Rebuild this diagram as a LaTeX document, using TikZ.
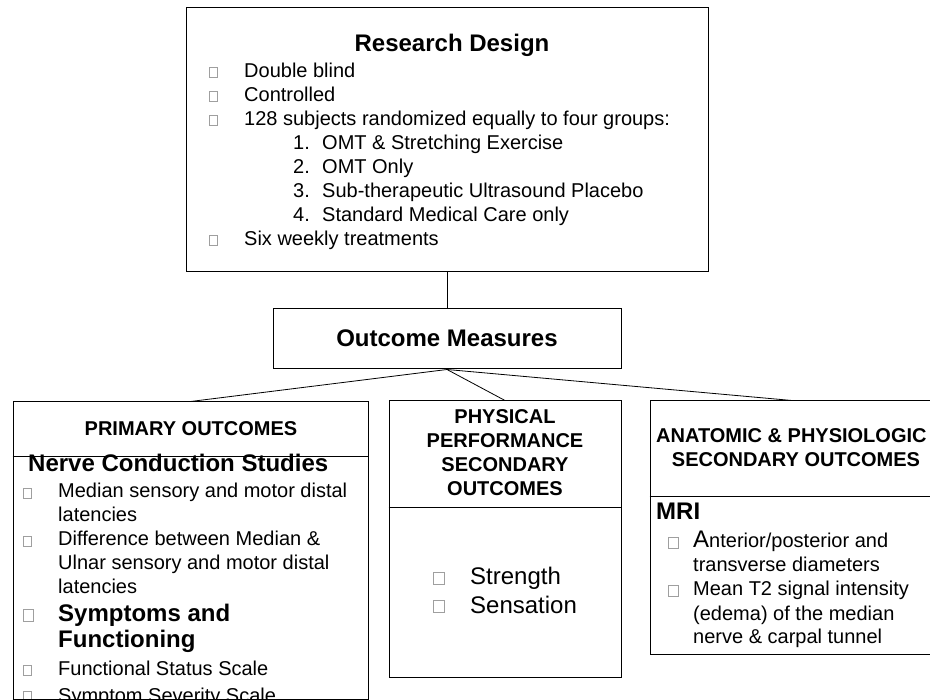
\documentclass[tikz,border=0pt]{standalone}
\usepackage{fontspec}
\setmainfont{Liberation Sans}
\begin{document}
\begin{tikzpicture}[x=1pt,y=-1pt,
  boxst/.style={draw=black,line width=1pt,inner sep=0,fill=none},
  divst/.style={draw=black,line width=1pt},
  conn/.style={draw=black,line width=0.8pt},
  bulst/.style={draw=gray!75,line width=0.6pt},
  bt/.style={inner sep=0,anchor=base west,font=\fontsize{20pt}{24pt}\selectfont},
  hd/.style={inner sep=0,anchor=base,font=\fontsize{20pt}{24pt}\selectfont\bfseries},
  hdw/.style={inner sep=0,anchor=base west,font=\fontsize{20pt}{24pt}\selectfont\bfseries},
  big/.style={inner sep=0,anchor=base,font=\fontsize{24pt}{28pt}\selectfont\bfseries},
  bigw/.style={inner sep=0,anchor=base west,font=\fontsize{24pt}{28pt}\selectfont\bfseries},
  lgw/.style={inner sep=0,anchor=base west,font=\fontsize{24pt}{28pt}\selectfont}]
\useasboundingbox[fill=white] (0,0) rectangle (930,700);

% ---------- boxes ----------
\node[boxst,minimum width=522pt,minimum height=264pt] (rd) at (447,140) {};
\node[boxst,minimum width=348pt,minimum height=60pt] (om) at (447,339) {};
\node[boxst,minimum width=355pt,minimum height=297pt] (lb) at (190.5,550.5) {};
\node[boxst,minimum width=232pt,minimum height=276pt] (mb) at (505,539) {};
\node[boxst,minimum width=284pt,minimum height=253pt] (rb) at (792,527.5) {};

% dividers
\draw[divst] (lb.west |- 0,457) -- (lb.east |- 0,457);
\draw[divst] (mb.west |- 0,508) -- (mb.east |- 0,508);
\draw[divst] (rb.west |- 0,497) -- (rb.east |- 0,497);

% ---------- connectors ----------
\draw[conn] (rd.south) -- (om.north);
\draw[conn] (om.south) -- (lb.north);
\draw[conn] (om.south) -- (mb.north);
\draw[conn] (om.south) -- (rb.north);

% ---------- Research Design ----------
\node[big] (rdt) at (452,52) {Research Design};
\draw[bulst] (209,67) rectangle (217,77);
\node[bt] (r1) at (244,78) {Double blind};
\draw[bulst] (209,91) rectangle (217,101);
\node[bt] (r2) at (244,102) {Controlled};
\draw[bulst] (209,115) rectangle (217,125);
\node[bt] (r3) at (244,126) {128 subjects randomized equally to four groups:};
\node[bt] (n1) at (293,150) {1.};
\node[bt] (g1) at (322,150) {OMT \& Stretching Exercise};
\node[bt] (n2) at (293,174) {2.};
\node[bt] (g2) at (322,174) {OMT Only};
\node[bt] (n3) at (293,198) {3.};
\node[bt] (g3) at (322,198) {Sub-therapeutic Ultrasound Placebo};
\node[bt] (n4) at (293,222) {4.};
\node[bt] (g4) at (322,222) {Standard Medical Care only};
\draw[bulst] (209,235) rectangle (217,245);
\node[bt] (r4) at (244,246) {Six weekly treatments};

% ---------- Outcome Measures ----------
\node[big] (omt) at (447,347) {Outcome Measures};

% ---------- Primary outcomes ----------
\node[hd] (lh) at (191,436) {PRIMARY OUTCOMES};
\node[bigw] (ncs) at (28,472) {Nerve Conduction Studies};
\draw[bulst] (23,488) rectangle (31,498);
\node[bt] (l1) at (58,498) {Median sensory and motor distal};
\node[bt] (l1b) at (58,522) {latencies};
\draw[bulst] (23,536) rectangle (31,546);
\node[bt] (l2) at (58,546) {Difference between Median \&};
\node[bt] (l2b) at (58,570) {Ulnar sensory and motor distal};
\node[bt] (l2c) at (58,594) {latencies};
\draw[bulst] (23,609) rectangle (33,621);
\node[bigw] (sf1) at (58,621) {Symptoms and};
\node[bigw] (sf2) at (58,648) {Functioning};
\draw[bulst] (23,665) rectangle (31,675);
\node[bt] (l3) at (58,675) {Functional Status Scale};
\draw[bulst] (23,691) rectangle (31,701);
\node[bt] (l4) at (58,702) {Symptom Severity Scale};
\draw[divst] (lb.south west) -- (lb.south east);

% ---------- Physical performance ----------
\node[hd] (m1) at (505,424) {PHYSICAL};
\node[hd] (m2) at (505,448) {PERFORMANCE};
\node[hd] (m3) at (505,472) {SECONDARY};
\node[hd] (m4) at (505,496) {OUTCOMES};
\draw[bulst] (433,572) rectangle (444,584);
\node[lgw] (st) at (470,585) {Strength};
\draw[bulst] (433,600) rectangle (444,612);
\node[lgw] (se) at (470,613) {Sensation};

% ---------- Anatomic & physiologic ----------
\node[hdw] (a1) at (656,443) {ANATOMIC \& PHYSIOLOGIC};
\node[hd] (a2) at (796,467) {SECONDARY OUTCOMES};
\node[bigw] (mri) at (656,520) {MRI};
\draw[bulst] (668,537) rectangle (678,548);
\node[bt] (a3) at (693,548) {{\fontsize{24pt}{28pt}\selectfont A}nterior/posterior and};
\node[bt] (a3b) at (693,572) {transverse diameters};
\draw[bulst] (668,585) rectangle (678,596);
\node[bt] (a4) at (693,596) {Mean T2 signal intensity};
\node[bt] (a4b) at (693,620) {(edema) of the median};
\node[bt] (a4c) at (693,644) {nerve \& carpal tunnel};
\end{tikzpicture}
\end{document}
